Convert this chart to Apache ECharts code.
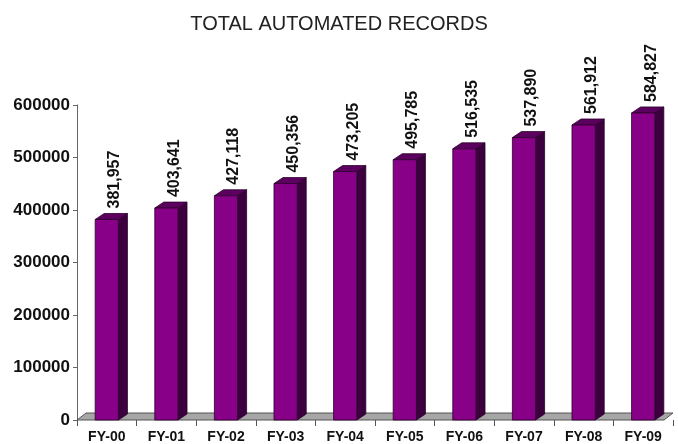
<!DOCTYPE html>
<html>
<head>
<meta charset="utf-8">
<script src="https://cdn.jsdelivr.net/npm/echarts@6/dist/echarts.min.js"></script>
<style>
  html, body { margin: 0; padding: 0; background: #fff; }
  #chart { width: 678px; height: 444px; }
</style>
</head>
<body>
<div id="chart"></div>
<script>
const years = ['FY-00', 'FY-01', 'FY-02', 'FY-03', 'FY-04', 'FY-05', 'FY-06', 'FY-07', 'FY-08', 'FY-09']
const records = [381957, 403641, 427118, 450356, 473205, 495785, 516535, 537890, 561912, 584827]
const yTicks = [0, 100000, 200000, 300000, 400000, 500000, 600000]

// fake 3d depth, px
const DX = 9
const DY = 6
const FRONT = '#870087'
const SIDE = '#3c003f'
const TOP = '#5c005f'
const EDGE = '#2a002a'
const FONT = '"Liberation Sans", Arial, sans-serif'

function fmt(v) {
  return String(v).replace(/\B(?=(\d{3})+(?!\d))/g, ',')
}

function renderFloor(params, api) {
  const cs = params.coordSys
  const yb = cs.y + cs.height
  const xl = cs.x
  const xr = cs.x + cs.width
  return {
    type: 'polygon',
    shape: { points: [[xl, yb], [xr - DX, yb], [xr, yb - DY - 1], [xl + DX, yb - DY - 1]] },
    style: { fill: '#a6a6a6', stroke: '#555', lineWidth: 1 }
  }
}

function renderBar(params, api) {
  const i = api.value(0)
  const v = api.value(1)
  const base = api.coord([i, 0])
  const top = api.coord([i, v])
  const band = api.size([1, 0])[0]
  const w = band * 0.39
  const x0 = base[0] - w / 2
  const x1 = base[0] + w / 2
  const yb = base[1]
  const yt = top[1]
  return {
    type: 'group',
    children: [
      {
        type: 'polygon',
        shape: { points: [[x1, yb], [x1 + DX, yb - DY], [x1 + DX, yt - DY], [x1, yt]] },
        style: { fill: SIDE, stroke: EDGE, lineWidth: 0.8 }
      },
      {
        type: 'polygon',
        shape: { points: [[x0, yt], [x1, yt], [x1 + DX, yt - DY], [x0 + DX, yt - DY]] },
        style: { fill: TOP, stroke: EDGE, lineWidth: 0.8 }
      },
      {
        type: 'rect',
        shape: { x: x0, y: yt, width: w, height: yb - yt },
        style: { fill: FRONT, stroke: EDGE, lineWidth: 0.8 }
      },
      {
        type: 'text',
        x: base[0] + DX - 1,
        y: yt - DY - 5,
        rotation: Math.PI / 2,
        style: {
          text: fmt(v),
          textAlign: 'left',
          textVerticalAlign: 'middle',
          font: 'bold 16px ' + FONT,
          fill: '#111'
        }
      }
    ]
  }
}

const chart = echarts.init(document.getElementById('chart'))
chart.setOption({
  animation: false,
  title: {
    text: 'TOTAL AUTOMATED RECORDS',
    left: 'center',
    top: 9,
    textStyle: { fontFamily: FONT, fontWeight: 'normal', fontSize: 20, color: '#222' }
  },
  grid: { left: 77, right: 5, top: 105, bottom: 24 },
  xAxis: {
    type: 'category',
    data: years,
    axisLine: { show: false },
    axisTick: { show: true, length: 6, lineStyle: { color: '#555' } },
    axisLabel: { margin: 10, fontFamily: FONT, fontWeight: 'bold', fontSize: 14, color: '#111' }
  },
  yAxis: {
    type: 'value',
    min: yTicks[0],
    max: yTicks[yTicks.length - 1],
    interval: yTicks[1] - yTicks[0],
    axisLine: { show: true, lineStyle: { color: '#666' } },
    axisTick: { show: true, length: 4, lineStyle: { color: '#666' } },
    splitLine: { show: false },
    axisLabel: {
      margin: 7,
      formatter: (v) => String(v),
      fontFamily: FONT, fontWeight: 'bold', fontSize: 17, color: '#111'
    }
  },
  series: [
    {
      type: 'custom',
      z: 1,
      data: [[0, 0]],
      renderItem: renderFloor,
      silent: true
    },
    {
      type: 'custom',
      z: 2,
      data: records.map((v, i) => [i, v]),
      encode: { x: 0, y: 1 },
      renderItem: renderBar
    }
  ]
})
</script>
</body>
</html>
